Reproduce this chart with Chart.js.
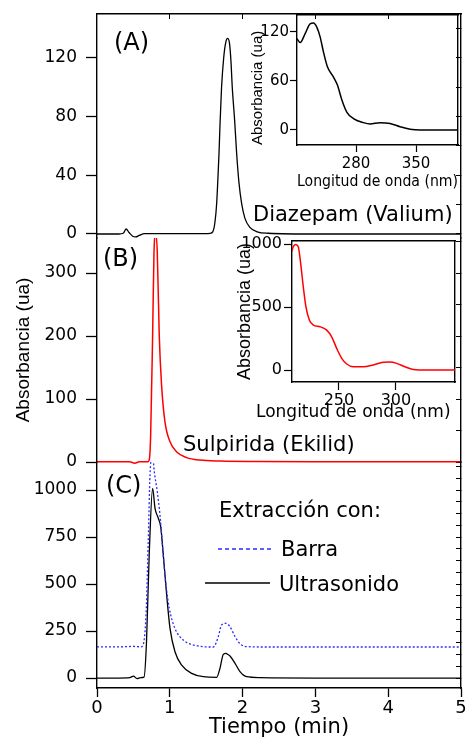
<!DOCTYPE html>
<html><head><meta charset="utf-8">
<script src="https://cdn.jsdelivr.net/npm/chart.js@4/dist/chart.umd.min.js"></script>
<style>
html,body{margin:0;padding:0;background:#fff;}
#wrap{position:relative;width:466px;height:740px;overflow:hidden;background:#fff;}
canvas{position:absolute;}
.lbl{position:absolute;font-family:"DejaVu Sans",sans-serif;line-height:1;white-space:nowrap;color:#000;}
</style></head><body>
<div id="wrap">
<canvas id="cA" width="466" height="240" style="left:0;top:0"></canvas>
<canvas id="cB" width="466" height="240" style="left:0;top:230px"></canvas>
<canvas id="cC" width="466" height="300" style="left:0;top:440px"></canvas>
<canvas id="iA" width="226" height="200" style="left:240px;top:0"></canvas>
<canvas id="iB" width="240" height="200" style="left:226px;top:226px"></canvas>
<div class="lbl" style="left:114px;top:30px;font-size:24px">(A)</div>
<div class="lbl" style="left:103px;top:246px;font-size:24px">(B)</div>
<div class="lbl" style="left:106px;top:473px;font-size:24px">(C)</div>
<div class="lbl" style="left:253px;top:204px;font-size:21px">Diazepam (Valium)</div>
<div class="lbl" style="left:183px;top:434px;font-size:21px">Sulpirida (Ekilid)</div>
<div class="lbl" style="left:256px;top:403px;font-size:17px">Longitud de onda (nm)</div>
<div class="lbl" style="left:219px;top:500px;font-size:21px">Extracción con:</div>
<div class="lbl" style="left:281px;top:539px;font-size:21px">Barra</div>
<div class="lbl" style="left:279px;top:574px;font-size:21px">Ultrasonido</div>
<svg style="position:absolute;left:0;top:0" width="466" height="740">
<line x1="218" y1="549" x2="273" y2="549" stroke="#2b2bff" stroke-width="1.3" stroke-dasharray="4 3"/>
<line x1="205" y1="583" x2="270" y2="583" stroke="#000" stroke-width="1.3"/>
</svg>
</div>
<script>
// ---- Data ----
// Panel A: Diazepam (Valium) chromatogram
const timeA = [0, 0.30, 0.36, 0.40, 0.44, 0.49, 0.53, 0.58, 0.65, 0.72, 1.0, 1.50, 1.55, 1.59, 1.62, 1.644, 1.66, 1.676, 1.69, 1.711, 1.74, 1.77, 1.794, 1.82, 1.84, 1.858, 1.89, 1.918, 1.95, 1.986, 2.03, 2.10, 2.20, 2.35, 3.0, 4.0, 5.0];
const absA  = [0, 0, 0.5, 3.4, 1.0, -1.5, -2.0, -1.0, 0.2, 0.3, 0.2, 0.2, 0.4, 1.5, 8, 21, 37, 55, 75, 100, 120, 131, 133.4, 130, 118, 100, 78, 55, 35, 21, 11, 4.5, 1.5, 0.5, 0, 0, 0];
// Panel B: Sulpirida (Ekilid) chromatogram
const timeB = [0, 0.45, 0.52, 0.58, 0.70, 0.72, 0.737, 0.764, 0.783, 0.806, 0.828, 0.855, 0.887, 0.933, 1.003, 1.095, 1.232, 1.415, 1.7, 2.2, 3.0, 4.0, 5.0];
const absB  = [0.5, 0.3, -2.0, 0.3, 0.5, 5, 43, 201, 333, 362, 333, 201, 122, 64, 32, 16, 7, 3, 1.5, 0.8, 0.5, 0.5, 0.5];
// Panel C: extraction with Ultrasonido (solid) and Barra (dotted)
const timeUltra = [0, 0.30, 0.45, 0.50, 0.55, 0.60, 0.646, 0.68, 0.717, 0.764, 0.797, 0.842, 0.875, 0.911, 0.957, 1.003, 1.071, 1.163, 1.30, 1.46, 1.643, 1.69, 1.735, 1.772, 1.80, 1.827, 1.896, 1.964, 2.055, 2.24, 3.0, 4.0, 5.0];
const absUltra  = [0, 0, 2, 10, -3, 2, 5, 193, 654, 1009, 902, 850, 805, 654, 441, 264, 140, 69, 25, 7, 4, 53, 126, 131, 125, 117, 78, 34, 7, 2, 0, 0, 0];
const timeBarra = [0, 0.30, 0.50, 0.60, 0.626, 0.673, 0.705, 0.728, 0.751, 0.765, 0.787, 0.828, 0.865, 0.902, 0.943, 0.993, 1.071, 1.185, 1.369, 1.598, 1.666, 1.711, 1.772, 1.827, 1.896, 1.974, 2.078, 2.3, 3.0, 4.0, 5.0];
const absBarra  = [166, 166, 168, 166, 170, 335, 743, 1080, 1175, 1180, 1097, 991, 867, 690, 512, 371, 264, 202, 172, 165, 220, 282, 291, 273, 220, 179, 167, 165, 165, 165, 165];
// Inset A: UV spectrum Diazepam
const waveA = [210.8, 214.7, 220.5, 226.3, 230.2, 234.1, 238, 241.8, 246.5, 253.5, 258.2, 263.3, 269.1, 276.9, 288.5, 296.3, 308, 319.7, 331.3, 343, 354.7, 399];
const specA = [112, 107, 118, 130, 131, 126, 114, 96, 77.5, 65, 55, 37, 22, 14, 9, 7.3, 9, 8, 4, 1, 0, 0];
// Inset B: UV spectrum Sulpirida
const waveB = [208.5, 209.9, 212, 214.3, 216.4, 218.7, 221, 224, 227.5, 233.3, 239.2, 243.6, 248, 252.4, 256.8, 262.5, 271.3, 280, 288.9, 294.7, 300.6, 307.9, 315.2, 327, 351.8];
const specB = [939, 979, 997, 979, 847, 661, 503, 397, 357, 344, 317, 264, 172, 93, 48, 26, 26, 40, 61, 63, 53, 26, 5, 0, 0];
// Tick labels
const timeTicks = [0, 1, 2, 3, 4, 5];
const ticksA = [0, 40, 80, 120];
const ticksB = [0, 100, 200, 300];
const ticksC = [0, 250, 500, 750, 1000];
const insetATicksX = [280, 350];
const insetATicksY = [0, 60, 120];
const insetBTicksX = [250, 300];
const insetBTicksY = [0, 500, 1000];

const FONT = '"DejaVu Sans", sans-serif';
const FONT2 = '"Liberation Sans", Arial, sans-serif';
const pts = (xs, ys) => xs.map((x, i) => ({x: x, y: ys[i]}));
const setTicks = vals => s => { s.ticks = vals.map(v => ({value: v})); };
const range = (a, b, st) => { const r = []; for (let v = a; v <= b + 1e-9; v += st) r.push(v); return r; };
const noPad = s => { s.paddingTop = 0; s.paddingBottom = 0; s.paddingLeft = 0; s.paddingRight = 0; };
const fixW = w => s => { s.width = w; noPad(s); };
const fixH = h => s => { s.height = h; noPad(s); };

function base(padding, scales, datasets) {
  return {
    type: 'line',
    data: {datasets: datasets},
    options: {
      responsive: false, animation: false, devicePixelRatio: 1, events: [],
      layout: {padding: padding, autoPadding: false},
      plugins: {legend: {display: false}, tooltip: {enabled: false}},
      elements: {point: {radius: 0}, line: {cubicInterpolationMode: 'monotone'}},
      scales: scales
    }
  };
}
function mainY(min, max, ticks, title) {
  return {
    type: 'linear', position: 'left', min: min, max: max,
    afterBuildTicks: setTicks(ticks), afterFit: fixW(97),
    border: {display: true, color: '#000', width: 1.4},
    grid: {display: true, drawOnChartArea: false, drawTicks: true, tickLength: 11, tickColor: '#000', tickWidth: 1.3},
    ticks: {color: '#000', padding: 9, autoSkip: false, font: {family: FONT, size: 17}, callback: v => String(v)},
    title: title ? {display: true, text: title, color: '#000', font: {family: FONT2, size: 19}, padding: {top: 12, bottom: 0}} : {display: false}
  };
}
function rightY(min, max, step) {
  return {
    type: 'linear', position: 'right', min: min, max: max,
    afterBuildTicks: setTicks(range(0, max, step)), afterFit: fixW(0),
    border: {display: true, color: '#000', width: 1.4},
    grid: {display: true, drawOnChartArea: false, drawTicks: true, tickLength: -5, tickColor: '#000', tickWidth: 1},
    ticks: {display: false}
  };
}
const hiddenX = () => ({type: 'linear', position: 'bottom', min: 0, max: 5, afterFit: fixH(0),
  border: {display: false}, grid: {display: false}, ticks: {display: false}});

// Panel A
new Chart(document.getElementById('cA'), base({left: 0, top: 14, right: 5, bottom: 2}, {
  x: hiddenX(),
  xt: {type: 'linear', position: 'top', min: 0, max: 5, afterBuildTicks: setTicks([1, 2, 3, 4]), afterFit: fixH(0),
       border: {display: true, color: '#000', width: 1.4},
       grid: {display: true, drawOnChartArea: false, tickLength: -5, tickColor: '#000', tickWidth: 1}, ticks: {display: false}},
  y: mainY(-2.73, 150, ticksA),
  yr: rightY(-2.73, 150, 20)
}, [{data: pts(timeA, absA), borderColor: '#000', borderWidth: 1.3}]));

// Panel B
new Chart(document.getElementById('cB'), base({left: 0, top: 8, right: 5, bottom: 8}, {
  x: hiddenX(),
  y: mainY(0, 355.6, ticksB, 'Absorbancia (ua)'),
  yr: rightY(0, 355.6, 50)
}, [{data: pts(timeB, absB), borderColor: '#ff0000', borderWidth: 1.5, clip: {left: 0, top: 0, right: 0, bottom: 5}}]));

// Panel C
new Chart(document.getElementById('cC'), base({left: 0, top: 22, right: 5, bottom: 0}, {
  x: {type: 'linear', position: 'bottom', min: 0, max: 5,
      afterBuildTicks: setTicks(timeTicks), afterFit: fixH(52),
      border: {display: true, color: '#000', width: 1.4},
      grid: {display: true, drawOnChartArea: false, tickLength: 9, tickColor: '#000', tickWidth: 1.3},
      ticks: {color: '#000', padding: 1, autoSkip: false, maxRotation: 0, font: {family: FONT, size: 18}, callback: v => String(v)},
      title: {display: true, text: 'Tiempo (min)', color: '#000', font: {family: FONT, size: 21}, padding: {top: 0, bottom: 0}}},
  y: mainY(-53, 1149, ticksC),
  yr: rightY(-53, 1149, 62.5)
}, [
  {label: 'Barra', data: pts(timeBarra, absBarra), borderColor: '#2b2bff', borderWidth: 1.3, borderDash: [2, 2]},
  {label: 'Ultrasonido', data: pts(timeUltra, absUltra), borderColor: '#000', borderWidth: 1.3}
]));

function inset(id, padding, xr, xt, yr, yt, color, wave, spec, o) {
  const frame = {display: true, color: '#000', width: 1.4};
  return new Chart(document.getElementById(id), base(padding, {
    x: {type: 'linear', position: 'bottom', min: xr[0], max: xr[1], afterBuildTicks: setTicks(xt), afterFit: fixH(o.xh),
        border: frame, grid: {display: true, drawOnChartArea: false, tickLength: o.tl, tickColor: '#000', tickWidth: 1.2},
        ticks: {color: '#000', padding: o.xpad, autoSkip: false, maxRotation: 0, font: {family: FONT, size: o.tf}, callback: v => String(v)},
        title: {display: o.xtitle, text: 'Longitud de onda (nm)', color: '#000', font: {family: FONT, size: o.xtf}, padding: {top: 0, bottom: 0}}},
    xt: {type: 'linear', position: 'top', min: xr[0], max: xr[1], afterFit: fixH(0), border: frame,
         grid: {display: false}, ticks: {display: false}},
    y: {type: 'linear', position: 'left', min: yr[0], max: yr[1], afterBuildTicks: setTicks(yt), afterFit: fixW(o.yw),
        border: frame, grid: {display: true, drawOnChartArea: false, tickLength: o.tl, tickColor: '#000', tickWidth: 1.2},
        ticks: {color: '#000', padding: o.ypad, autoSkip: false, font: {family: FONT, size: o.tf}, callback: v => String(v)},
        title: {display: true, text: 'Absorbancia (ua)', color: '#000', align: o.ya, font: {family: FONT2, size: o.ytf}, padding: {top: 0, bottom: 0}}},
    yr: {type: 'linear', position: 'right', min: yr[0], max: yr[1], afterFit: fixW(0), border: frame,
         grid: {display: false}, ticks: {display: false}}
  }, [{data: pts(wave, spec), borderColor: color, borderWidth: 1.5}]));
}
inset('iA', {left: 9, top: 15, right: 8, bottom: 9}, [211, 399], insetATicksX, [-18.4, 140.8], insetATicksY, '#000', waveA, specA,
      {xh: 46, yw: 48, tl: 7, xpad: 3, ypad: 1, tf: 15, xtf: 15, ytf: 15, ya: 'start', xtitle: true});
inset('iB', {left: 8, top: 15, right: 11, bottom: 4}, [208.8, 351.8], insetBTicksX, [-95, 1024], insetBTicksY, '#ff0000', waveB, specB,
      {xh: 40, yw: 58, tl: 8, xpad: 1, ypad: 2, tf: 16, xtf: 17, ytf: 18, ya: 'center', xtitle: false});
</script>
</body></html>
